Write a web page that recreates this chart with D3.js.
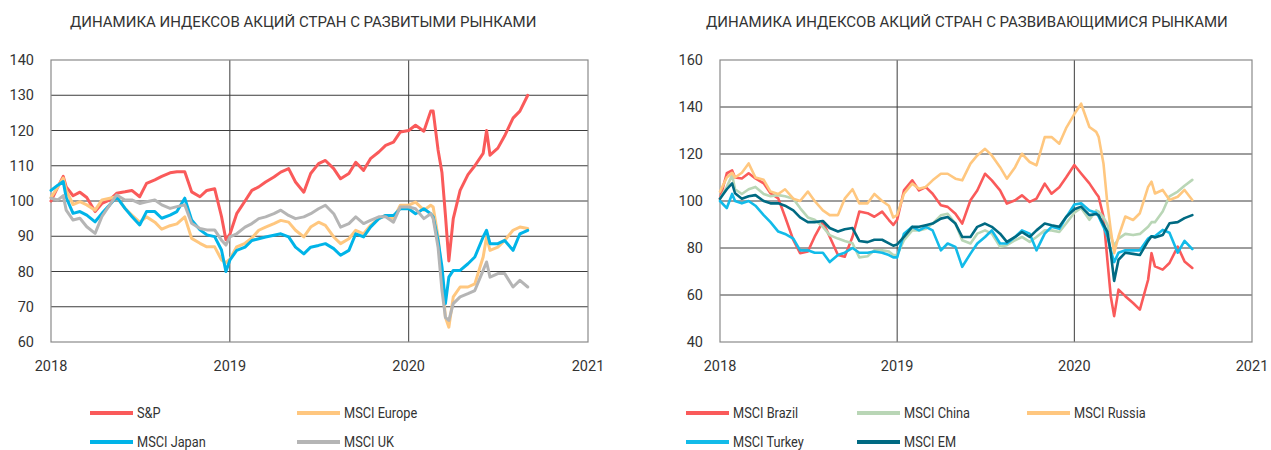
<!DOCTYPE html>
<html>
<head>
<meta charset="utf-8">
<script src="https://cdn.jsdelivr.net/npm/d3@7"></script>
<style>
  body { margin: 0; background: #fff; }
  svg { display: block; }
  text { font-family: Roboto, "Noto Sans", sans-serif; fill: #333; }
</style>
</head>
<body>
<svg id="chart"></svg>
<script>
// dates of the readings (semi-monthly, with extra points around the 2020 crash)
const dates = [
  "2018-01-01","2018-01-15","2018-01-26","2018-02-01","2018-02-15","2018-03-01","2018-03-15","2018-04-01","2018-04-15",
  "2018-05-01","2018-05-15","2018-06-01","2018-06-15","2018-07-01","2018-07-15","2018-08-01","2018-08-15","2018-09-01",
  "2018-09-15","2018-10-01","2018-10-15","2018-11-01","2018-11-15","2018-12-01","2018-12-15","2018-12-24",
  "2019-01-01","2019-01-15","2019-02-01","2019-02-15","2019-03-01","2019-03-15","2019-04-01","2019-04-15",
  "2019-05-01","2019-05-15","2019-06-01","2019-06-15","2019-07-01","2019-07-15","2019-08-01","2019-08-15",
  "2019-09-01","2019-09-15","2019-10-01","2019-10-15","2019-11-01","2019-11-15","2019-12-01","2019-12-15",
  "2020-01-01","2020-01-15","2020-02-01","2020-02-15","2020-02-20","2020-03-01","2020-03-09","2020-03-16","2020-03-23",
  "2020-04-01","2020-04-15","2020-05-01","2020-05-15","2020-06-01","2020-06-08","2020-06-15","2020-07-01","2020-07-15",
  "2020-08-01","2020-08-15","2020-08-31"
];

// developed markets
const spValues = [
  100, 104, 107, 104, 101.5, 102.5, 101, 97, 99.3, 100.3, 102.2, 102.6, 103, 101.2, 105, 106, 107, 108, 108.3, 108.3, 102.6, 101.2, 103, 103.5, 95.6, 89,
  90.5, 96.4, 100, 103, 104, 105.4, 106.8, 108.2, 109.2, 105.4, 102.5, 107.8, 110.6, 111.5, 109.2, 106.3, 107.8, 111, 108.7, 112, 113.9, 115.8, 116.7, 119.6,
  120, 121.5, 119.8, 125.5, 125.5, 114.5, 108, 96, 83, 95, 103, 107.5, 110, 113.5, 120, 113, 115, 118.5, 123.5, 125.5, 130
];
const europeValues = [
  101, 104, 106.5, 103, 99, 99.8, 98.9, 97.4, 100.3, 100.8, 101.2, 97.9, 96, 94, 95.5, 94, 92, 93, 93.5, 95.5, 89.4, 88, 87, 87, 83.3, 82.5,
  83.5, 87, 88, 89.5, 91.7, 92.6, 93.6, 94.5, 94, 91.7, 89.8, 92.6, 94, 93.1, 89.8, 87.9, 89.3, 91.7, 90.7, 93.1, 95, 95.9, 95, 98.8,
  98.8, 99.7, 97.4, 98.8, 98.3, 89.8, 78.4, 67, 64.2, 72.8, 75.6, 75.6, 76.5, 84.1, 89.8, 86, 86.9, 88.8, 91.7, 92.6, 92.2
];
const japanValues = [
  103, 104.5, 105.5, 101, 96.5, 97, 96, 94.1, 96.5, 98.9, 101.2, 97.9, 95.6, 93.2, 97, 97, 95.1, 96, 97, 100.8, 94.6, 91.8, 90.4, 89.9, 86.1, 80,
  83.2, 86, 86.9, 88.8, 89.3, 89.8, 90.3, 90.7, 89.8, 86.9, 85, 86.9, 87.4, 87.9, 86.5, 84.6, 86, 90.7, 89.8, 92.6, 95, 95.9, 95.9, 97.8,
  97.8, 96.4, 97.8, 96.4, 95.5, 88.8, 81.3, 70.9, 78.4, 80.3, 80.3, 82.2, 84.1, 89.8, 91.7, 87.9, 87.9, 88.8, 86, 90.7, 91.7
];
const ukValues = [
  100.8, 100.3, 101.5, 97.4, 94.6, 95.1, 92.7, 90.8, 95.6, 98.9, 101.7, 100.3, 100.3, 99.3, 99.8, 100.3, 98.9, 97.9, 98.4, 98.9, 93.7, 92.2, 91.8, 91.8, 88.9, 87.5,
  89.8, 90.7, 92.6, 93.6, 95, 95.5, 96.4, 97.4, 95.9, 95, 95.5, 96.4, 97.8, 98.8, 96.4, 92.6, 93.6, 95.5, 93.6, 94.5, 95.5, 95.5, 94, 98.3,
  98.3, 97.8, 95, 96.4, 95, 86.9, 74.6, 67, 66.1, 70.9, 72.8, 73.7, 74.6, 80.3, 82.7, 78.4, 79.4, 79.4, 75.6, 77.5, 75.6
];

// emerging markets
const brazilValues = [
  101, 111.8, 113, 110, 109.6, 111.8, 109.6, 107.5, 103.3, 101.1, 93.3, 83.4, 77.8, 78.5, 84.8, 91.2, 84.8, 77, 76.3, 84.8, 95.5, 94.8, 93.3, 95.5, 91.9, 89.8,
  92, 104.5, 108.8, 104.5, 105.9, 103.1, 98.2, 97.5, 94.6, 90.4, 100.3, 104.5, 111.6, 108.8, 104.5, 98.9, 100.3, 102.4, 99.6, 101, 107.4, 103.1, 105.9, 110,
  115.3, 111.7, 107.5, 103.2, 101.8, 93.4, 75, 59.5, 51, 62.3, 59.5, 56.6, 53.8, 66.5, 77.8, 72.2, 70.8, 73.6, 80.6, 74.3, 71.5
];
const chinaValues = [
  101, 106, 111, 105, 103, 105, 106, 103, 102, 102.5, 102, 101, 97, 93, 92, 89, 85.5, 84, 83, 82, 76, 76.5, 79, 79, 78.5, 77,
  77, 83.3, 87.5, 87.5, 88.2, 90.4, 93.9, 94.6, 90.4, 83.3, 81.9, 86.1, 87.5, 86.1, 80.5, 81.2, 83.3, 84.7, 82.6, 84.7, 87.5, 87.5, 86.8, 90.4,
  95, 97, 92, 96, 95.5, 93, 90, 85, 81, 84, 86, 85.5, 86, 89, 91, 91, 95.5, 102, 104, 106.5, 109
];
const russiaValues = [
  104, 110, 112, 110, 112, 116, 110, 109, 104, 103, 105, 101, 100, 104, 100, 96, 94, 94, 101, 105, 99, 99, 103, 100, 98, 93,
  94, 103.1, 107.4, 105.2, 106, 108.8, 111.6, 111.6, 109.5, 108.8, 115.9, 119.4, 122.2, 119.4, 114.4, 109.5, 114.4, 120.1, 116.6, 115.2, 127.2, 127.2, 124.4, 131,
  137, 141.4, 131.5, 129.4, 127.3, 116, 99, 87.7, 77.8, 84.9, 93.4, 91.9, 94.8, 106, 108.2, 103.2, 104.7, 100.4, 101.8, 104.7, 100.4
];
const turkeyValues = [
  100, 97, 103, 100, 99, 100, 98, 94, 91, 87, 86, 84, 79, 79, 78, 78, 74, 77, 78, 80, 78, 78, 78.5, 78, 77, 76,
  76, 86.1, 89, 87.5, 89, 87.5, 79, 81.9, 80.5, 72, 77.6, 81.9, 84.7, 87.5, 81.9, 81.9, 84.7, 87.5, 86.1, 79, 86.1, 89, 88.2, 93,
  98.5, 99, 96, 95, 93.4, 89, 85, 79, 74, 78, 79, 79, 79, 84, 85, 85, 87.7, 86.5, 78, 83, 79.5
];
const emValues = [
  101, 105, 107.5, 103.3, 101, 102, 102.5, 100, 99, 99, 98, 96, 93, 91, 91, 91.5, 88.5, 87, 88, 88.5, 83, 82.5, 83.5, 83.5, 82, 81,
  81.5, 84.7, 89, 89, 89.7, 90.4, 92.5, 93.2, 90.4, 84.7, 84.7, 89, 90.4, 89, 86.1, 82.6, 84.7, 86.8, 84.7, 87.5, 90.4, 89.7, 89, 93.2,
  96.5, 97.6, 94, 94.5, 94, 90, 87, 78, 66, 75, 78, 77.5, 77, 83, 85, 84.5, 85.5, 90.5, 91, 92.7, 94
];

const leftTicks = [60, 70, 80, 90, 100, 110, 120, 130, 140];
const rightTicks = [40, 60, 80, 100, 120, 140, 160];
const yearTicks = ["2018", "2019", "2020", "2021"];
const leftTitle = "ДИНАМИКА ИНДЕКСОВ АКЦИЙ СТРАН С РАЗВИТЫМИ РЫНКАМИ";
const rightTitle = "ДИНАМИКА ИНДЕКСОВ АКЦИЙ СТРАН С РАЗВИВАЮЩИМИСЯ РЫНКАМИ";

const parse = d3.timeParse("%Y-%m-%d");
const parsedDates = dates.map(parse);
const years = yearTicks.map(y => parse(y + "-01-01"));

const svg = d3.select("#chart")
    .attr("width", 1271)
    .attr("height", 450);

function drawPanel(cfg) {
    const x = d3.scaleTime()
        .domain([years[0], years[years.length - 1]])
        .range([cfg.left, cfg.right]);
    const y = d3.scaleLinear()
        .domain(d3.extent(cfg.ticks))
        .range([cfg.bottom, cfg.top]);

    const g = svg.append("g");

    // title
    g.append("text")
        .attr("x", cfg.titleX)
        .attr("y", 27)
        .attr("font-size", 15)
        .text(cfg.title);

    // horizontal grid
    g.append("g")
      .selectAll("line")
      .data(cfg.ticks.slice(1, -1))
      .join("line")
        .attr("x1", cfg.left).attr("x2", cfg.right)
        .attr("y1", d => y(d)).attr("y2", d => y(d))
        .attr("stroke", "#3c3c3c")
        .attr("stroke-width", 1);

    // vertical year lines
    g.append("g")
      .selectAll("line")
      .data(years.slice(1, -1))
      .join("line")
        .attr("x1", d => x(d)).attr("x2", d => x(d))
        .attr("y1", cfg.top).attr("y2", cfg.bottom)
        .attr("stroke", "#3c3c3c")
        .attr("stroke-width", 1);

    // frame
    g.append("rect")
        .attr("x", cfg.left).attr("y", cfg.top)
        .attr("width", cfg.right - cfg.left)
        .attr("height", cfg.bottom - cfg.top)
        .attr("fill", "none")
        .attr("stroke", "#8a8a8a")
        .attr("stroke-width", 1.2);

    // y axis labels
    g.append("g")
      .selectAll("text")
      .data(cfg.ticks)
      .join("text")
        .attr("x", cfg.left - 17)
        .attr("y", d => y(d))
        .attr("dy", "0.35em")
        .attr("text-anchor", "end")
        .attr("font-size", 14.5)
        .text(d => d);

    // x axis labels
    g.append("g")
      .selectAll("text")
      .data(years)
      .join("text")
        .attr("x", d => x(d))
        .attr("y", 371)
        .attr("text-anchor", "middle")
        .attr("font-size", 14.5)
        .text(d => d.getFullYear());

    // series
    const line = d3.line()
        .x((d, i) => x(parsedDates[i]))
        .y(d => y(d));

    g.append("g")
        .attr("fill", "none")
        .attr("stroke-linejoin", "round")
        .attr("stroke-linecap", "round")
      .selectAll("path")
      .data(cfg.series)
      .join("path")
        .attr("stroke", d => d.color)
        .attr("stroke-width", cfg.lineWidth)
        .attr("d", d => line(d.values));

    // legend
    const legend = g.append("g")
      .selectAll("g")
      .data(cfg.series)
      .join("g")
        .attr("transform", (d, i) =>
            `translate(${cfg.legendCols[i % cfg.legendCols.length]}, ${[413, 442][Math.floor(i / cfg.legendCols.length)]})`);

    legend.append("line")
        .attr("x1", 0).attr("x2", 43)
        .attr("stroke", d => d.color)
        .attr("stroke-width", 4);

    // the legend font is a narrow one: squeeze Roboto a little
    legend.append("text")
        .attr("x", 47)
        .attr("y", 5)
        .attr("font-size", 15)
        .text(d => d.name)
        .each(function () {
            const w = this.getComputedTextLength();
            d3.select(this)
                .attr("textLength", w * 0.85)
                .attr("lengthAdjust", "spacingAndGlyphs");
        });
}

drawPanel({
    title: leftTitle, titleX: 70,
    left: 51, right: 588, top: 60, bottom: 342,
    ticks: leftTicks, lineWidth: 3,
    legendCols: [90, 297],
    series: [
        { name: "S&P", values: spValues, color: "#fa5a5a" },
        { name: "MSCI Europe", values: europeValues, color: "#ffc77f" },
        { name: "MSCI Japan", values: japanValues, color: "#00b4e8" },
        { name: "MSCI UK", values: ukValues, color: "#b5b5b5" }
    ]
});

drawPanel({
    title: rightTitle, titleX: 706,
    left: 720, right: 1252, top: 60, bottom: 342,
    ticks: rightTicks, lineWidth: 2.6,
    legendCols: [686, 857, 1027],
    series: [
        { name: "MSCI Brazil", values: brazilValues, color: "#fa5a5a" },
        { name: "MSCI China", values: chinaValues, color: "#b9d6b6" },
        { name: "MSCI Russia", values: russiaValues, color: "#ffc77f" },
        { name: "MSCI Turkey", values: turkeyValues, color: "#12bbe9" },
        { name: "MSCI EM", values: emValues, color: "#006a82" }
    ]
});
</script>
</body>
</html>
